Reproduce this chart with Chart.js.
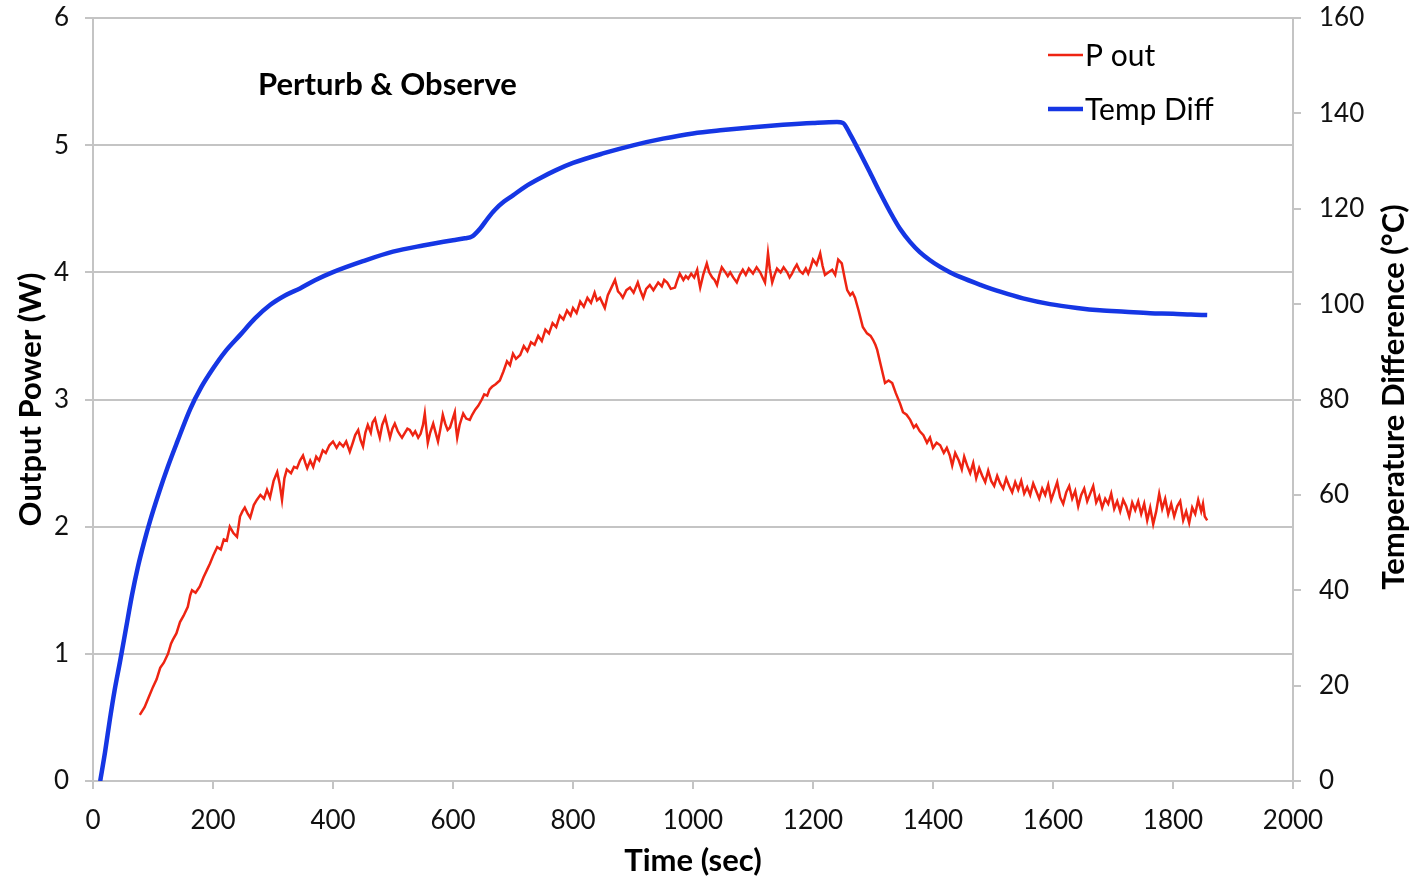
<!DOCTYPE html>
<html>
<head>
<meta charset="utf-8">
<script src="https://cdn.jsdelivr.net/npm/chart.js@4.4.1/dist/chart.umd.min.js"></script>
<style>
  html, body { margin: 0; padding: 0; background: #fff; }
  #wrap { width: 1414px; height: 882px; }
</style>
</head>
<body>
<div id="wrap"><canvas id="powerChart" width="1414" height="882"></canvas></div>
<script>
// output power, sampled every few seconds
const powerTime = [78, 86, 93, 100, 106, 112, 118, 125, 130, 133, 139, 145, 151, 158, 162, 165, 171, 178, 184, 190,
  195, 201, 207, 213, 218, 223, 228, 234, 240, 245, 249, 253, 258, 262, 268, 273, 279, 285, 290, 295,
  301, 307, 311, 315, 319, 323, 330, 335, 340, 345, 350, 354, 357, 362, 367, 372, 377, 383, 388, 394,
  400, 406, 411, 417, 422, 428, 433, 437, 442, 446, 450, 454, 458, 463, 466, 470, 474, 478, 482, 487,
  491, 495, 499, 503, 508, 512, 515, 520, 524, 528, 533, 537, 542, 546, 550, 553, 556, 558, 562, 567,
  571, 575, 579, 583, 587, 591, 595, 599, 603, 605, 607, 611, 617, 622, 628, 632, 637, 642, 648, 652,
  657, 661, 665, 671, 678, 684, 690, 695, 700, 705, 712, 718, 724, 730, 736, 742, 748, 754, 760, 766,
  772, 778, 784, 790, 796, 800, 806, 812, 818, 824, 830, 836, 840, 845, 849, 853, 858, 864, 870, 875,
  879, 883, 889, 895, 901, 908, 912, 917, 922, 928, 934, 942, 948, 952, 957, 963, 970, 974, 978, 984,
  988, 992, 997, 1002, 1007, 1010, 1012, 1017, 1023, 1027, 1032, 1036, 1040, 1044, 1048, 1054, 1058, 1062, 1067, 1073,
  1078, 1083, 1088, 1093, 1100, 1106, 1112, 1116, 1120, 1123, 1125, 1128, 1132, 1136, 1140, 1146, 1151, 1157, 1161, 1165,
  1169, 1173, 1178, 1183, 1188, 1192, 1196, 1200, 1206, 1212, 1216, 1220, 1226, 1232, 1237, 1242, 1248, 1253, 1257, 1262,
  1266, 1270, 1276, 1283, 1290, 1296, 1300, 1304, 1307, 1313, 1320, 1326, 1332, 1338, 1345, 1350, 1356, 1362, 1368, 1372,
  1378, 1384, 1390, 1395, 1400, 1406, 1412, 1418, 1423, 1428, 1432, 1437, 1443, 1448, 1452, 1457, 1462, 1467, 1472, 1477,
  1482, 1487, 1492, 1497, 1502, 1507, 1512, 1517, 1522, 1527, 1532, 1537, 1542, 1547, 1552, 1557, 1562, 1567, 1572, 1577,
  1582, 1587, 1592, 1597, 1602, 1607, 1612, 1617, 1622, 1627, 1632, 1637, 1642, 1647, 1652, 1657, 1662, 1667, 1672, 1677,
  1682, 1687, 1692, 1697, 1702, 1707, 1712, 1717, 1722, 1727, 1732, 1737, 1742, 1747, 1752, 1757, 1762, 1767, 1772, 1777,
  1782, 1787, 1792, 1797, 1802, 1807, 1812, 1817, 1822, 1827, 1832, 1837, 1842, 1847, 1850, 1853, 1857];

const powerW = [0.52, 0.58, 0.66, 0.74, 0.80, 0.89, 0.93, 1.00, 1.08, 1.11, 1.16, 1.25, 1.30, 1.37, 1.46, 1.50, 1.48, 1.53, 1.60, 1.66,
  1.71, 1.78, 1.84, 1.82, 1.90, 1.89, 2.00, 1.95, 1.92, 2.08, 2.12, 2.15, 2.10, 2.07, 2.17, 2.21, 2.25, 2.22, 2.29, 2.23,
  2.36, 2.43, 2.34, 2.21, 2.38, 2.45, 2.42, 2.47, 2.46, 2.52, 2.56, 2.50, 2.46, 2.52, 2.47, 2.55, 2.52, 2.60, 2.58, 2.64,
  2.67, 2.62, 2.66, 2.63, 2.67, 2.59, 2.66, 2.72, 2.76, 2.68, 2.63, 2.74, 2.80, 2.74, 2.82, 2.85, 2.77, 2.70, 2.80, 2.86,
  2.78, 2.70, 2.77, 2.81, 2.75, 2.72, 2.70, 2.74, 2.77, 2.76, 2.72, 2.75, 2.70, 2.73, 2.80, 2.89, 2.75, 2.66, 2.74, 2.81,
  2.74, 2.67, 2.77, 2.88, 2.81, 2.76, 2.78, 2.84, 2.90, 2.78, 2.70, 2.80, 2.89, 2.85, 2.84, 2.88, 2.92, 2.95, 3.00, 3.04,
  3.03, 3.08, 3.10, 3.12, 3.15, 3.22, 3.30, 3.27, 3.36, 3.32, 3.35, 3.42, 3.38, 3.45, 3.43, 3.50, 3.46, 3.55, 3.52, 3.60,
  3.57, 3.66, 3.63, 3.70, 3.66, 3.72, 3.68, 3.77, 3.73, 3.80, 3.76, 3.84, 3.78, 3.80, 3.76, 3.72, 3.82, 3.88, 3.94, 3.85,
  3.83, 3.80, 3.86, 3.88, 3.84, 3.92, 3.86, 3.80, 3.87, 3.90, 3.86, 3.92, 3.89, 3.94, 3.92, 3.87, 3.88, 3.94, 3.99, 3.94,
  3.97, 3.95, 3.99, 3.96, 4.02, 3.93, 3.88, 3.98, 4.07, 4.00, 3.96, 3.94, 3.90, 3.98, 4.04, 4.00, 3.97, 4.00, 3.96, 3.92,
  3.98, 4.02, 3.98, 4.03, 3.99, 4.04, 4.00, 3.96, 3.92, 4.05, 4.15, 4.03, 3.92, 3.98, 4.03, 4.00, 4.04, 4.00, 3.96, 3.99,
  4.03, 4.06, 4.01, 3.99, 4.03, 3.99, 4.04, 4.10, 4.06, 4.15, 4.05, 3.98, 4.00, 4.02, 3.98, 4.10, 4.07, 3.95, 3.86, 3.82,
  3.84, 3.80, 3.70, 3.57, 3.52, 3.50, 3.47, 3.43, 3.39, 3.27, 3.13, 3.15, 3.13, 3.05, 2.97, 2.90, 2.88, 2.84, 2.78, 2.80,
  2.75, 2.72, 2.66, 2.70, 2.62, 2.66, 2.64, 2.58, 2.62, 2.56, 2.48, 2.58, 2.52, 2.45, 2.55, 2.48, 2.42, 2.50, 2.38, 2.46,
  2.40, 2.35, 2.44, 2.36, 2.32, 2.40, 2.34, 2.30, 2.38, 2.32, 2.27, 2.35, 2.29, 2.36, 2.26, 2.31, 2.25, 2.34, 2.28, 2.22,
  2.30, 2.25, 2.33, 2.21, 2.28, 2.35, 2.23, 2.18, 2.27, 2.32, 2.22, 2.28, 2.16, 2.25, 2.30, 2.20, 2.26, 2.32, 2.19, 2.24,
  2.15, 2.22, 2.18, 2.26, 2.14, 2.20, 2.12, 2.21, 2.16, 2.08, 2.19, 2.13, 2.20, 2.10, 2.18, 2.05, 2.15, 2.02, 2.12, 2.26,
  2.14, 2.22, 2.10, 2.18, 2.08, 2.16, 2.20, 2.05, 2.12, 2.03, 2.15, 2.10, 2.21, 2.12, 2.18, 2.08, 2.05];

// hot/cold side temperature difference
const tempTime = [12, 20, 28, 36, 45, 55, 65, 75, 85, 95, 110, 125, 140, 162, 180, 200, 220, 245, 270, 295,
  320, 345, 370, 400, 450, 500, 550, 600, 620, 632, 645, 658, 670, 685, 700, 720, 745, 770, 800, 850,
  900, 950, 1000, 1050, 1100, 1150, 1200, 1240, 1250, 1262, 1278, 1295, 1312, 1330, 1345, 1362, 1378, 1395, 1412, 1428,
  1445, 1480, 1512, 1550, 1595, 1640, 1678, 1720, 1762, 1800, 1830, 1857];
const tempDiff = [0, 6, 12.8, 19, 25, 32, 39, 45, 50, 54.5, 60.5, 66, 71, 78, 82.5, 86.5, 90, 93.5, 97, 99.8,
  101.8, 103.3, 105, 106.7, 109, 111, 112.3, 113.4, 113.8, 114.2, 115.8, 118, 119.8, 121.5, 122.8, 124.6, 126.4, 128, 129.6, 131.6,
  133.3, 134.7, 135.8, 136.5, 137.1, 137.6, 138, 138.2, 138, 135.6, 131.8, 127.6, 123.3, 119.0, 115.8, 113.0, 110.9, 109.2, 107.8, 106.7,
  105.7, 104.0, 102.6, 101.2, 100.0, 99.2, 98.7, 98.4, 98.1, 98, 97.8, 97.7];

const powerTicks = [0, 1, 2, 3, 4, 5, 6];
const tempTicks = [0, 20, 40, 60, 80, 100, 120, 140, 160];
const timeTicks = [0, 200, 400, 600, 800, 1000, 1200, 1400, 1600, 1800, 2000];

const FONT = "Lato, 'Open Sans', sans-serif";
const GRID = "#c4c4c4";
const RED = "#ee2412";
const BLUE = "#1536e4";

// title text, legend and the right-hand axis title (reads bottom-to-top)
const overlayPlugin = {
  id: "overlay",
  afterDraw(chart) {
    const ctx = chart.ctx;
    ctx.save();
    ctx.fillStyle = "#000";
    ctx.font = "bold 31px " + FONT;
    ctx.textBaseline = "middle";
    ctx.textAlign = "left";
    ctx.fillText("Perturb & Observe", 258, 85);

    // legend
    const items = [
      { ds: chart.data.datasets[0], y: 55 },
      { ds: chart.data.datasets[1], y: 109 },
    ];
    ctx.font = "30px " + FONT;
    items.forEach((it) => {
      ctx.beginPath();
      ctx.moveTo(1048, it.y);
      ctx.lineTo(1083, it.y);
      ctx.strokeStyle = it.ds.borderColor;
      ctx.lineWidth = it.ds.borderWidth;
      ctx.stroke();
      ctx.fillStyle = "#000";
      ctx.fillText(it.ds.label, 1085, it.y + 1);
    });

    // right axis title
    ctx.translate(1394, 397);
    ctx.rotate(-Math.PI / 2);
    ctx.textAlign = "center";
    ctx.font = "bold 31px " + FONT;
    ctx.fillText("Temperature Difference (°C)", 0, 0);
    ctx.restore();
  },
};

const plainTick = (value) => String(value);

// fixed axis sizes; drop the label overflow so the plot starts near the top
const fitVertical = (width) => (scale) => {
  scale.width = width;
  scale.paddingTop = 0;
  scale.paddingBottom = 0;
};

const ctx = document.getElementById("powerChart").getContext("2d");

new Chart(ctx, {
  type: "line",
  data: {
    datasets: [
      {
        label: "P out",
        data: powerTime.map((t, i) => ({ x: t, y: powerW[i] })),
        borderColor: RED,
        backgroundColor: RED,
        borderWidth: 2.5,
        pointRadius: 0,
        tension: 0,
        yAxisID: "y",
        order: 1,
      },
      {
        label: "Temp Diff",
        data: tempTime.map((t, i) => ({ x: t, y: tempDiff[i] })),
        borderColor: BLUE,
        backgroundColor: BLUE,
        borderWidth: 4.5,
        pointRadius: 0,
        cubicInterpolationMode: "monotone",
        yAxisID: "y2",
        order: 2,
      },
    ],
  },
  options: {
    responsive: false,
    animation: false,
    layout: { padding: { top: 18, left: 0, right: 0, bottom: 0 } },
    plugins: {
      legend: { display: false },
      tooltip: { enabled: false },
    },
    scales: {
      x: {
        type: "linear",
        min: 0,
        max: 2000,
        afterBuildTicks: (scale) => { scale.ticks = timeTicks.map((v) => ({ value: v })); },
        afterFit: (scale) => { scale.height = 101; },
        ticks: {
          font: { family: FONT, size: 26 },
          color: "#111",
          padding: 16,
          maxRotation: 0,
          callback: plainTick,
        },
        grid: { drawOnChartArea: false, color: GRID, lineWidth: 2, tickLength: 8 },
        border: { color: GRID, width: 2 },
        title: {
          display: true,
          text: "Time (sec)",
          font: { family: FONT, size: 31, weight: "bold" },
          color: "#000",
          padding: { top: 0, bottom: 2 },
        },
      },
      y: {
        position: "left",
        min: 0,
        max: 6,
        afterBuildTicks: (scale) => { scale.ticks = powerTicks.map((v) => ({ value: v })); },
        afterFit: fitVertical(93),
        ticks: {
          font: { family: FONT, size: 26 },
          color: "#111",
          padding: 16,
          callback: plainTick,
        },
        grid: { color: GRID, lineWidth: 2, tickLength: 8 },
        border: { color: GRID, width: 2 },
        title: {
          display: true,
          text: "Output Power (W)",
          font: { family: FONT, size: 31, weight: "bold" },
          color: "#000",
          padding: { top: 12, bottom: 0 },
        },
      },
      y2: {
        position: "right",
        min: 0,
        max: 160,
        afterBuildTicks: (scale) => { scale.ticks = tempTicks.map((v) => ({ value: v })); },
        afterFit: fitVertical(121),
        ticks: {
          font: { family: FONT, size: 26 },
          color: "#111",
          padding: 18,
          callback: plainTick,
        },
        grid: { drawOnChartArea: false, color: GRID, lineWidth: 2, tickLength: 8 },
        border: { color: GRID, width: 2 },
      },
    },
  },
  plugins: [overlayPlugin],
});
</script>
</body>
</html>
